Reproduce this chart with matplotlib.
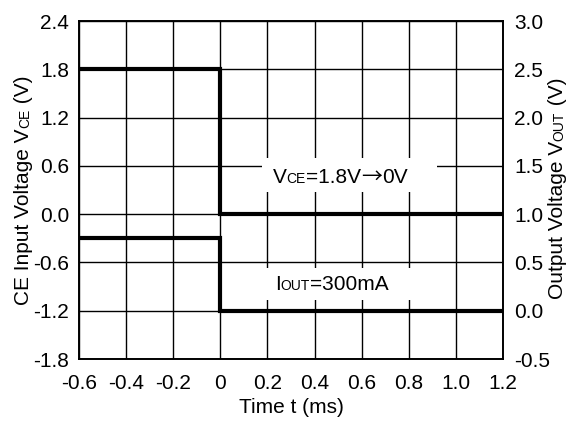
import matplotlib
matplotlib.use("Agg")
import matplotlib.pyplot as plt
import matplotlib.transforms as mtransforms
from matplotlib.patches import Rectangle

plt.rcParams['font.family'] = ['Liberation Sans', 'DejaVu Sans']

# step response data (time in ms)
t_vce = [-0.6, 0.0, 0.0, 1.2]
vce = [1.8, 1.8, 0.0, 0.0]          # left axis, V
t_vout = [-0.6, 0.0, 0.0, 1.2]
vout = [0.75, 0.75, 0.0, 0.0]       # right axis, V

x_ticks = [-0.6, -0.4, -0.2, 0.0, 0.2, 0.4, 0.6, 0.8, 1.0, 1.2]
x_labels = ["-0.6", "-0.4", "-0.2", "0", "0.2", "0.4", "0.6", "0.8", "1.0", "1.2"]
left_ticks = [-1.8, -1.2, -0.6, 0.0, 0.6, 1.2, 1.8, 2.4]
right_ticks = [-0.5, 0.0, 0.5, 1.0, 1.5, 2.0, 2.5, 3.0]

FS = 15
SUB = 10


def rich_text(fig, x, y, pieces, transform, vertical=False, center=False, zorder=5):
    # draws text made of pieces (string, size, family) on one baseline
    renderer = fig.canvas.get_renderer()
    widths = []
    for s, fs, fam in pieces:
        t = fig.text(0, 0, s, fontsize=fs, family=fam)
        widths.append(t.get_window_extent(renderer).width)
        t.remove()
    offset = -sum(widths) / 2 if center else 0.0
    for (s, fs, fam), w in zip(pieces, widths):
        if vertical:
            shift = mtransforms.ScaledTranslation(0, offset / fig.dpi, fig.dpi_scale_trans)
            fig.text(x, y, s, fontsize=fs, family=fam, transform=transform + shift, rotation=90,
                     rotation_mode='anchor', ha='left', va='baseline', zorder=zorder)
        else:
            shift = mtransforms.ScaledTranslation(offset / fig.dpi, 0, fig.dpi_scale_trans)
            fig.text(x, y, s, fontsize=fs, family=fam, transform=transform + shift,
                     ha='left', va='baseline', zorder=zorder)
        offset += w


LS = 'Liberation Sans'
fig = plt.figure(figsize=(5.72, 4.23), dpi=100)
ax = fig.add_axes([79 / 572, 64 / 423, 424 / 572, 338 / 423])
ax2 = ax.twinx()

ax.set_xlim(-0.6, 1.2)
ax.set_ylim(-1.8, 2.4)
ax2.set_ylim(-0.5, 3.0)

ax.set_xticks(x_ticks)
ax.set_xticklabels(x_labels)
ax.set_yticks(left_ticks)
ax.set_yticklabels([f"{v:.1f}" for v in left_ticks])
ax2.set_yticks(right_ticks)
ax2.set_yticklabels([f"{v:.1f}" for v in right_ticks])

for a in (ax, ax2):
    a.tick_params(length=0, labelsize=FS, pad=7)
    for sp in a.spines.values():
        sp.set_linewidth(1.2)
        sp.set_color("black")
ax.tick_params(axis="x", pad=11)
ax2.tick_params(axis="y", pad=8)

ax.set_axisbelow(True)
ax.grid(True, color="black", linewidth=1.0)

ax.plot(t_vce, vce, color="black", linewidth=3.0, solid_joinstyle="miter", zorder=3)
ax2.plot(t_vout, vout, color="black", linewidth=3.0, solid_joinstyle="miter", zorder=3)

# white boxes behind the annotations
ax.add_patch(Rectangle((0.177, 0.276), 0.742, 0.422, facecolor="white", edgecolor="none", zorder=1))
ax.add_patch(Rectangle((0.177, -1.066), 0.742, 0.398, facecolor="white", edgecolor="none", zorder=1))

rich_text(fig, 0.223, 0.388,
          [("V", FS, LS), ("CE", SUB, LS), ("=1.8V", FS, LS),
           ("\u2192", FS, 'Noto Sans CJK JP'), ("0V", FS, LS)],
          ax.transData)
rich_text(fig, 0.232, -0.942, [("I", FS, LS), ("OUT", SUB, LS), ("=300mA", FS, LS)], ax.transData)

fig.text(0.5 * (79 + 503) / 572, 10 / 423, "Time t (ms)", fontsize=FS, ha="center", va="baseline")

rich_text(fig, 29 / 572, 0.55, [("CE Input Voltage V", FS, LS), ("CE", SUB, LS), (" (V)", FS, LS)],
          fig.transFigure, vertical=True, center=True)
rich_text(fig, 563 / 572, 0.555, [("Output Voltage V", FS, LS), ("OUT", SUB, LS), (" (V)", FS, LS)],
          fig.transFigure, vertical=True, center=True)

fig.savefig("out.png", dpi=100)
